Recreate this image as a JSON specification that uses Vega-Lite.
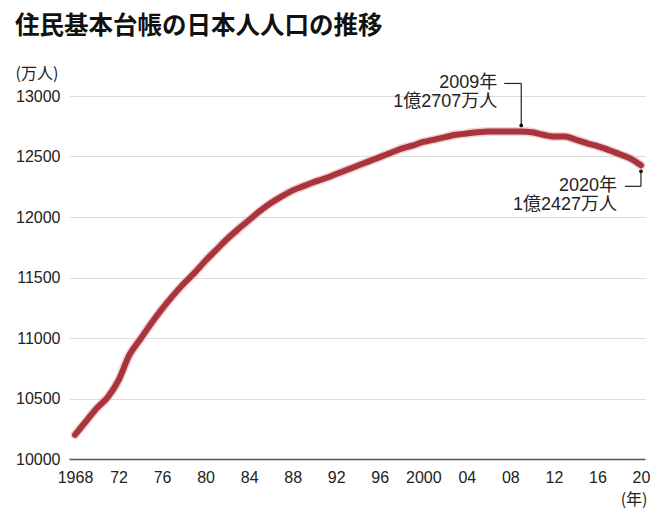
{
  "$schema": "https://vega.github.io/schema/vega-lite/v6.json",
  "autosize": {"type": "none"},
  "width": 576,
  "height": 363,
  "padding": {"left": 69, "top": 96, "right": 19, "bottom": 57},
  "background": "white",
  "title": {
    "text": "住民基本台帳の日本人人口の推移",
    "anchor": "start",
    "frame": "group",
    "dx": -54,
    "offset": 26,
    "font": "Noto Sans CJK JP",
    "fontSize": 24.5,
    "fontWeight": "bold",
    "color": "#111111"
  },
  "config": {
    "view": {"stroke": null},
    "axis": {"labelFont": "Liberation Sans", "labelFontSize": 16, "labelColor": "#222222", "titleFont": "Noto Sans CJK JP", "titleFontWeight": "normal", "titleColor": "#222222"}
  },
  "datasets": {
    "population": [
      {"year": 1968, "value": 10200},
      {"year": 1969, "value": 10310},
      {"year": 1970, "value": 10420},
      {"year": 1971, "value": 10510},
      {"year": 1972, "value": 10650},
      {"year": 1973, "value": 10860},
      {"year": 1974, "value": 10990},
      {"year": 1975, "value": 11120},
      {"year": 1976, "value": 11240},
      {"year": 1977, "value": 11350},
      {"year": 1978, "value": 11450},
      {"year": 1979, "value": 11540},
      {"year": 1980, "value": 11640},
      {"year": 1981, "value": 11730},
      {"year": 1982, "value": 11820},
      {"year": 1983, "value": 11900},
      {"year": 1984, "value": 11975},
      {"year": 1985, "value": 12050},
      {"year": 1986, "value": 12115},
      {"year": 1987, "value": 12170},
      {"year": 1988, "value": 12220},
      {"year": 1989, "value": 12255},
      {"year": 1990, "value": 12290},
      {"year": 1991, "value": 12320},
      {"year": 1992, "value": 12355},
      {"year": 1993, "value": 12390},
      {"year": 1994, "value": 12425},
      {"year": 1995, "value": 12460},
      {"year": 1996, "value": 12495},
      {"year": 1997, "value": 12530},
      {"year": 1998, "value": 12565},
      {"year": 1999, "value": 12590},
      {"year": 2000, "value": 12620},
      {"year": 2001, "value": 12640},
      {"year": 2002, "value": 12660},
      {"year": 2003, "value": 12680},
      {"year": 2004, "value": 12690},
      {"year": 2005, "value": 12700},
      {"year": 2006, "value": 12706},
      {"year": 2007, "value": 12707},
      {"year": 2008, "value": 12707},
      {"year": 2009, "value": 12707},
      {"year": 2010, "value": 12700},
      {"year": 2011, "value": 12680},
      {"year": 2012, "value": 12665},
      {"year": 2013, "value": 12665},
      {"year": 2014, "value": 12640},
      {"year": 2015, "value": 12610},
      {"year": 2016, "value": 12585},
      {"year": 2017, "value": 12555},
      {"year": 2018, "value": 12520},
      {"year": 2019, "value": 12485},
      {"year": 2020, "value": 12427}
    ],
    "notes": [
      {"year": 2009, "value": 12707, "head": "2009年", "note": "1億2707万人"},
      {"year": 2020, "value": 12427, "head": "2020年", "note": "1億2427万人"}
    ]
  },
  "layer": [
    {
      "data": {"name": "population"},
      "mark": {"type": "line", "color": "#e7a3a6", "strokeWidth": 9, "opacity": 0.5, "interpolate": "monotone", "strokeCap": "round"},
      "encoding": {
        "x": {
          "field": "year",
          "type": "quantitative",
          "scale": {"domain": [1967.45, 2020.37], "nice": false, "zero": false},
          "axis": {
            "values": [1968, 1972, 1976, 1980, 1984, 1988, 1992, 1996, 2000, 2004, 2008, 2012, 2016, 2020],
            "labelExpr": "datum.value == 1968 || datum.value == 2000 ? '' + datum.value : (datum.value % 100 < 10 ? '0' : '') + (datum.value % 100)",
            "labelFlush": false,
            "labelPadding": 10,
            "grid": false,
            "ticks": false,
            "domainColor": "#555555",
            "domainWidth": 1.5,
            "title": "(年)",
            "titleFontSize": 16,
            "titleAlign": "right",
            "titleBaseline": "middle",
            "titleX": 578,
            "titleY": 40
          }
        },
        "y": {
          "field": "value",
          "type": "quantitative",
          "scale": {"domain": [10000, 13000], "nice": false, "zero": false},
          "axis": {
            "values": [10000, 10500, 11000, 11500, 12000, 12500, 13000],
            "format": "d",
            "grid": true,
            "gridColor": "#dcdcdc",
            "gridWidth": 1,
            "domain": false,
            "ticks": false,
            "labelPadding": 9,
            "title": "(万人)",
            "titleFontSize": 16,
            "titleAngle": 0,
            "titleAlign": "left",
            "titleBaseline": "middle",
            "titleX": -54,
            "titleY": -23
          }
        }
      }
    },
    {
      "data": {"name": "population"},
      "mark": {"type": "line", "color": "#a8343e", "strokeWidth": 6, "interpolate": "monotone", "strokeCap": "round"},
      "encoding": {
        "x": {"field": "year", "type": "quantitative"},
        "y": {"field": "value", "type": "quantitative"}
      }
    },
    {
      "data": {"name": "notes"},
      "transform": [{"filter": "datum.year == 2009"}],
      "layer": [
        {"mark": {"type": "rule", "color": "#222222", "strokeWidth": 1.2, "yOffset": -6, "y2Offset": -48},
         "encoding": {"x": {"field": "year", "type": "quantitative"}, "y": {"field": "value", "type": "quantitative"}, "y2": {"field": "value"}}},
        {"mark": {"type": "rule", "color": "#222222", "strokeWidth": 1.2, "yOffset": -48, "x2Offset": -17},
         "encoding": {"x": {"field": "year", "type": "quantitative"}, "x2": {"field": "year"}, "y": {"field": "value", "type": "quantitative"}}},
        {"mark": {"type": "point", "filled": true, "color": "#111111", "size": 14, "opacity": 1, "yOffset": -6},
         "encoding": {"x": {"field": "year", "type": "quantitative"}, "y": {"field": "value", "type": "quantitative"}}},
        {"mark": {"type": "text", "align": "right", "baseline": "middle", "dx": -24, "dy": -48, "font": "Liberation Sans, Noto Sans CJK JP", "fontSize": 18, "color": "#222222"},
         "encoding": {"x": {"field": "year", "type": "quantitative"}, "y": {"field": "value", "type": "quantitative"}, "text": {"field": "head"}}},
        {"mark": {"type": "text", "align": "right", "baseline": "middle", "dx": -24, "dy": -29, "font": "Liberation Sans, Noto Sans CJK JP", "fontSize": 18, "color": "#222222"},
         "encoding": {"x": {"field": "year", "type": "quantitative"}, "y": {"field": "value", "type": "quantitative"}, "text": {"field": "note"}}}
      ]
    },
    {
      "data": {"name": "notes"},
      "transform": [{"filter": "datum.year == 2020"}],
      "layer": [
        {"mark": {"type": "rule", "color": "#222222", "strokeWidth": 1.2, "yOffset": 6, "y2Offset": 21},
         "encoding": {"x": {"field": "year", "type": "quantitative"}, "y": {"field": "value", "type": "quantitative"}, "y2": {"field": "value"}}},
        {"mark": {"type": "rule", "color": "#222222", "strokeWidth": 1.2, "yOffset": 21, "x2Offset": -16},
         "encoding": {"x": {"field": "year", "type": "quantitative"}, "x2": {"field": "year"}, "y": {"field": "value", "type": "quantitative"}}},
        {"mark": {"type": "point", "filled": true, "color": "#111111", "size": 14, "opacity": 1, "yOffset": 6},
         "encoding": {"x": {"field": "year", "type": "quantitative"}, "y": {"field": "value", "type": "quantitative"}}},
        {"mark": {"type": "text", "align": "right", "baseline": "middle", "dx": -24, "dy": 21, "font": "Liberation Sans, Noto Sans CJK JP", "fontSize": 18, "color": "#222222"},
         "encoding": {"x": {"field": "year", "type": "quantitative"}, "y": {"field": "value", "type": "quantitative"}, "text": {"field": "head"}}},
        {"mark": {"type": "text", "align": "right", "baseline": "middle", "dx": -24, "dy": 40, "font": "Liberation Sans, Noto Sans CJK JP", "fontSize": 18, "color": "#222222"},
         "encoding": {"x": {"field": "year", "type": "quantitative"}, "y": {"field": "value", "type": "quantitative"}, "text": {"field": "note"}}}
      ]
    }
  ]
}
